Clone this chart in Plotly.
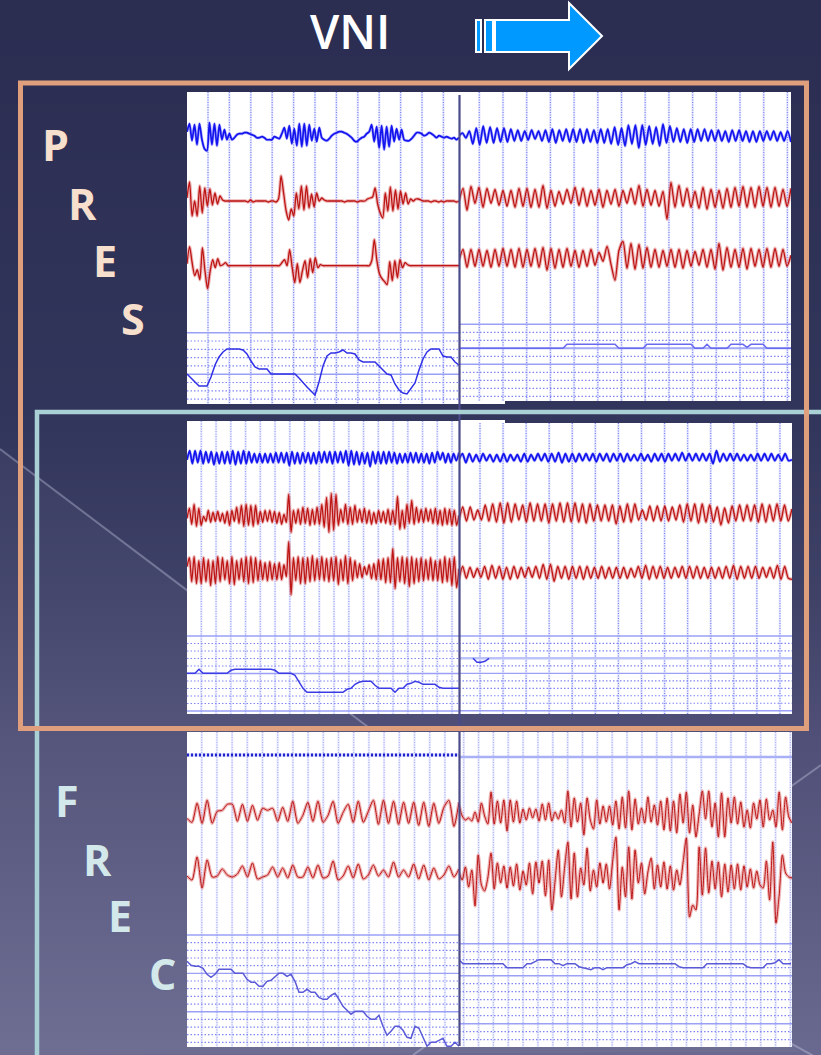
import numpy as np
import plotly.graph_objects as go

# ---------- channel values (amplitude, up is positive) ----------
a_blue = [5,13,-4,12,-8,13,-3,-12,-14,14,-8,13,-9,12,-3,7,-3,3,
          -3,-1,2,3,3,4,4,3,2,1,-1,-1,0,-1,-3,-3,-3,0,-1,-2,
          3,9,-2,11,-7,8,-9,13,-10,13,-9,12,-4,8,-5,9,
          -1,-3,-4,-2,1,3,4,5,5,4,3,1,-1,-4,-5,-3,-1,0,3,5,
          12,-5,10,-11,11,-13,10,-10,11,-5,8,-3,7,-3,-4,
          -4,-2,1,4,4,3,1,2,4,3,1,-1,1,0,-1,0,-1,-2,-1,-3,-1]
a_red1 = [3,19,-15,0,-15,15,-12,13,-5,12,-4,8,-3,5,1,
          0,0,0,0,0,0,0,0,0,-1,1,-1,0,0,0,0,0,-1,0,0,-1,
          2,25,8,-10,-19,-8,-15,8,-8,15,-9,15,-7,7,-6,8,0,3,1,
          0,0,0,0,0,0,0,-1,0,0,0,0,-1,0,0,0,
          2,3,4,13,-3,-12,-17,8,-10,14,-10,11,-8,10,-3,8,-3,2,0,
          2,2,1,0,0,0,-1,0,0,-1,0,-1,0,0,0,0,-1,0]
a_red2 = [2,19,3,-10,-4,-14,18,-5,-23,-6,6,-2,7,0,1,3,0,
          0,0,0,0,0,0,0,0,0,0,0,0,0,0,0,0,0,0,0,0,
          3,6,0,16,-2,-17,2,-17,-5,5,-12,7,-7,8,-2,1,0,
          0,0,0,0,0,0,0,0,0,0,0,0,0,0,0,0,0,0,
          5,26,5,-8,-13,-16,-19,4,-15,5,-12,6,-2,3,1,
          0,0,0,0,0,0,0,0,0,0,0,0,0,0,0,0,0,0,0,0]
a_sat = [0,-4,-7,-12,-12,-12,-3,9,17,22,25,25,25,25,24,20,13,7,5,5,5,0,0,0,0,0,0,0,-4,-9,-13,-17,-21,-8,8,18,21,21,22,24,21,21,
         20,14,12,12,12,12,8,4,0,-1,-10,-16,-19,-20,-15,-9,4,15,22,25,25,25,18,17,17,12,9,9,9]

b_blue = [0,3,-2,5,-8,8,-9,10,-7,9,-7,8,-6,8,-6,7,-5,6,-5,5,-4,6,-3,5,-5,6,-6,7,-7,6,-5,7,-6,7,-6,7,-7,7,-6,6,-7,7,-7,7,-8,9,-9,8,-10,11,
          -8,11,-12,11,-9,10,-8,9,-10,12,-7,10,-6,8,-6,7,-7,7,-6,7,-5,7,-5,6,-5,6,-5,5,-6,6,-5,6,-5,5,-6,5,-6,5,-5,5,-4,5,-5,4,-5,5,-6]
b_red1 = [-3,10,-12,12,-5,11,-9,10,-5,9,-7,8,-8,8,-9,10,-8,10,-9,9,-9,13,-10,8,-8,7,-6,9,-5,11,-7,10,-8,8,-7,9,-9,8,-6,9,
          -8,8,-5,10,-6,13,-8,9,-7,8,-8,7,-21,16,-9,13,-8,10,-9,7,-10,11,-11,9,-9,8,-10,10,-9,11,-8,12,-9,11,-9,12,-8,11,-9,11,-8,9,-8,10]
b_red2 = [-2,9,-9,9,-8,9,-8,8,-9,9,-8,10,-8,9,-9,10,-9,9,-8,10,-9,11,-12,10,-10,9,-9,10,-8,8,-9,8,-8,9,-7,6,-3,12,-6,-22,
          8,17,-10,15,-11,14,-10,11,-9,9,-9,8,-8,9,-9,9,-10,8,-8,7,-7,9,-9,9,-11,15,-12,11,-9,9,-9,10,-11,10,-8,9,-9,10,-9,10,-8,9,-8,3]
b_sat = [0,0,0,0,0,0,0,0,0,0,0,0,0,0,0,0,0,0,0,0,0,0,0,0,0,0,0,4,4,4,4,4,4,4,4,4,4,4,4,4,0,0,0,0,0,0,0,4,4,4,4,4,4,4,4,4,4,4,4,
         0,0,0,4,0,0,0,0,0,4,4,4,4,1,4,4,4,4,0,0,0,0,0,0,0]

c_blue = [-2,7,-6,7,-5,7,-6,6,-5,6,-7,5,-6,6,-6,6,-6,7,-7,6,-6,7,-6,6,-5,4,-5,4,-5,4,-5,4,-5,5,-5,5,-5,5,-8,6,-6,5,-6,5,-5,5,-6,5,-6,6,
          -5,6,-5,6,-6,6,-5,6,-5,7,-8,7,-7,6,-7,5,-6,5,-9,6,-6,6,-6,6,-6,6,-5,5,-6,4,-5,4,-5,5,-5,5,-5,4,-5,4,-6,5,-5,6,-2,5,-5,4,-5,4,-3,5]
c_red1 = [0,10,-6,14,-8,10,-7,2,-3,8,-4,6,-3,7,-3,5,-5,7,-7,8,-3,11,-5,13,-8,14,-7,13,-8,13,-6,7,-4,8,-3,8,-4,7,-5,6,
          -6,4,-4,24,-14,8,-5,9,-6,11,-5,10,-7,9,-6,11,-6,14,-9,21,-14,25,-12,24,-7,9,-4,14,-6,11,-6,13,-4,9,-4,10,-5,8,-6,6,
          -5,8,-4,7,-5,9,-6,8,-6,22,-11,8,-10,14,-5,18,-6,11,-4,9,-4,10,-3,9,-5,10,-6,8,-7,10,-6,9,-7,8,-7,3]
c_red2 = [5,14,-10,15,-12,11,-12,14,-10,12,-14,11,-12,15,-10,14,-8,11,-12,15,-13,11,-8,13,-10,15,-12,15,-11,14,-9,11,-8,9,-9,10,-8,8,-8,9,
          -8,7,-5,30,-23,14,-9,15,-12,14,-12,14,-10,16,-9,13,-8,15,-9,13,-10,14,-9,15,-13,12,-9,16,-12,14,-9,11,-6,8,-6,5,-3,7,-7,8,
          -8,12,-8,13,-11,14,-11,23,-17,14,-10,15,-12,14,-15,15,-12,13,-10,14,-9,12,-8,14,-9,11,-9,12,-11,15,-10,13,-14,15,-16,3]
c_sat = [0,0,0,4,0,0,0,0,0,0,0,3,4,4,4,4,4,4,4,4,4,4,3,0,0,0,0,-2,-8,-15,-19,-19,-19,-19,-19,-19,-19,-19,-19,-19,-16,-15,-11,-9,-8,-8,-8,-12,-15,-15,
         -15,-15,-19,-15,-15,-11,-10,-8,-9,-11,-11,-11,-11,-14,-15,-15,-15,-15,-15]

d_blue = [-2,4,-5,4,-4,3,-4,4,-3,3,-4,3,-4,4,-4,3,-3,3,-4,4,-4,3,-3,4,-3,4,-4,4,-4,5,-5,4,-4,4,-4,4,-3,4,-3,4,-4,4,-3,4,-4,4,-3,4,-4,4,
          -3,3,-3,4,-3,3,-4,4,-3,4,-4,4,-3,4,-3,5,-3,4,-3,4,-3,4,-3,4,-6,7,-4,4,-3,4,-3,4,-3,3,-3,3,-3,4,-3,4,-3,4,-3,3,-3,4,-3,-2]
d_red1 = [-5,8,-6,8,-5,5,-5,10,-6,11,-7,12,-8,12,-7,11,-5,10,-7,12,-6,11,-6,11,-8,11,-6,12,-7,12,-7,12,-7,11,-8,11,-6,10,-6,10,-6,10,-9,9,-7,11,-7,11,
          -5,5,-5,9,-6,9,-6,9,-6,8,-5,10,-7,11,-6,11,-8,11,-7,10,-7,8,-10,7,-8,9,-6,10,-6,10,-6,10,-7,11,-7,10,-6,11,-6,10,-6,6]
d_red2 = [-6,7,-5,6,-4,5,-4,7,-6,8,-5,7,-6,6,-6,7,-5,6,-4,6,-4,7,-5,9,-6,9,-8,7,-5,7,-6,7,-5,7,-6,7,-5,6,-5,7,-5,6,-5,6,-5,6,-5,5,-4,7,
          -5,8,-6,7,-5,7,-5,6,-5,6,-4,7,-5,7,-5,7,-5,6,-5,6,-5,6,-5,7,-5,8,-6,7,-5,7,-5,7,-5,6,-4,6,-5,8,-6,7,-5,-6]
d_sat = [0,-4,-4,-3,0]

e_blue = [0,0]
e_red1 = [-5,-9,10,-10,13,-10,2,3,9,9,-8,9,-8,8,-7,5,3,5,-8,6,-8,12,-10,-2,11,-8,12,-9,-2,12,-10,1,9,-9,12,-9,2,13,-11,13,
          -10,12,-11,11,-10,11,-12,11,-13,10,-10,6,13,-13,11]
e_red2 = [-1,-5,18,-13,15,-2,-1,6,0,-2,1,9,-2,12,-4,-2,0,8,-2,7,-3,10,-2,-2,8,-3,10,-3,-1,14,-5,-1,9,-3,11,-4,0,10,-1,5,
          -2,13,-2,5,-2,11,-4,10,-5,7,-4,0,9,-2,6]
e_sat = [12,8,7,7,5,-1,-4,-1,4,4,4,4,0,0,0,-6,-9,-9,-13,-13,-8,-7,-3,0,0,-3,-1,-8,-19,-19,-16,-19,-19,-24,-26,-26,-22,-20,-26,-33,-37,-41,-38,-38,-38,
         -43,-46,-46,-42,-53,-62,-58,-53,-53,-57,-64,-65,-53,-55,-64,-73,-69,-69,-67,-65,-73,-73,-69,-73]

f_blue = [0,0]
f_red1 = [10,-1,-5,-3,-6,3,-7,12,-1,-9,23,-9,14,-8,15,-16,15,-7,14,-8,6,-5,7,-3,6,-6,11,-5,12,-6,3,-4,5,-8,24,-12,17,-7,12,-20,
          17,-5,-14,15,-9,9,-7,9,-10,14,-14,18,-13,24,-15,16,-9,7,-8,18,-7,10,-10,14,-15,17,-16,14,-18,21,-8,23,-18,10,-22,1,24,-4,24,-12,
          12,-22,22,-22,17,-8,18,-9,13,-12,5,-13,12,-4,15,-12,16,-5,5,-12,23,-15,18,-2,-8]
f_red2 = [3,-5,8,-12,5,-31,20,-10,-16,-3,22,-14,12,-8,9,-13,8,-11,11,-15,4,-10,12,-19,13,-8,14,-21,15,-35,-6,25,-22,8,33,-24,22,-22,7,-10,
          27,-16,5,-12,12,-8,11,-14,14,38,-35,8,-22,28,-24,25,-8,12,-19,3,17,-14,10,-12,13,-14,9,-15,5,-10,13,37,-42,-30,-35,28,-20,27,-18,14,
          -14,13,-22,11,-17,10,-14,11,-15,9,-12,6,-13,4,-10,-13,14,-25,33,-48,-20,20,2,-2,-3]
f_sat = [4,0,0,0,0,0,0,0,0,0,0,0,-4,-4,-4,-4,-4,0,0,2,4,4,4,4,0,0,-2,0,0,0,-3,-4,-5,-6,-4,-4,-6,-4,-4,-4,-4,-4,-1,0,2,0,0,0,0,0,0,0,0,0,0,
         -3,-4,-4,-4,-4,-4,-4,0,0,0,0,0,0,0,0,0,0,-3,-4,-4,-4,-4,0,0,1,4,0,0,0]

title_text = "VNI"
pres_letters = ["P", "R", "E", "S"]
frec_letters = ["F", "R", "E", "C"]

W, H = 821, 1055
fig = go.Figure()
shapes = []

def px(v): return v / W
def py(v): return 1 - v / H

def rect(x0, y0, x1, y1, **kw):
    shapes.append(dict(type="rect", xref="paper", yref="paper", x0=px(x0), x1=px(x1), y0=py(y0), y1=py(y1), **kw))

def line(x0, y0, x1, y1, color, width, layer="below"):
    shapes.append(dict(type="line", xref="paper", yref="paper", x0=px(x0), x1=px(x1), y0=py(y0), y1=py(y1),
                       line=dict(color=color, width=width), layer=layer))

def path(points, fill, stroke=None, sw=0, layer="above"):
    d = "M " + " L ".join(f"{px(a):.5f},{py(b):.5f}" for a, b in points) + " Z"
    shapes.append(dict(type="path", xref="paper", yref="paper", path=d, fillcolor=fill, layer=layer,
                       line=dict(color=stroke or fill, width=sw)))

# ---------- slide background ----------
stops_y = [0, 420, 600, 740, 1055]
stops_c = np.array([[43, 46, 81], [51, 54, 92], [64, 66, 104], [80, 80, 120], [106, 106, 144]])
for y0 in range(0, H, 8):
    c = [int(np.interp(y0 + 4, stops_y, stops_c[:, i])) for i in range(3)]
    rect(0, y0, W, y0 + 9, fillcolor=f"rgb({c[0]},{c[1]},{c[2]})", line=dict(width=0), layer="below")
path([(0, 449), (800, 1052), (0, 1055)], "rgba(255,255,255,0.035)", layer="below")
line(0, 449, 372, 730, "rgba(215,215,240,0.35)", 2)
line(821, 765, 413, 1055, "rgba(215,215,240,0.35)", 2)
line(790, 1043, 821, 1060, "rgba(215,215,240,0.35)", 2)

# ---------- panels ----------
panels = [
    dict(box=(187, 92, 459, 404), vg=(21, 21.4), hg=(332.7, 8.3, [0, 5], 9), sig=[a_blue, a_red1, a_red2], mid=(136.7, 201, 265.7),
         sat=a_sat, satmid=374, vcol=("#e6e8ff", "#7f86f4")),
    dict(box=(459, 92, 791, 401), vg=(20.3, 23.7), hg=(324.3, 8.0, [0, 5], 10), sig=[b_blue, b_red1, b_red2], mid=(136, 198.3, 258.3),
         sat=b_sat, satmid=348.3, vcol=("#e6e8ff", "#7f86f4")),
    dict(box=(187, 421, 459, 714), vg=(14.3, 14.75), hg=(636, 7.5, [0, 5, 10], 11), sig=[c_blue, c_red1, c_red2], mid=(457.7, 518.3, 571.7),
         sat=c_sat, satmid=673.3, vcol=("#eaecff", "#9da3f6")),
    dict(box=(459, 423, 792, 714), vg=(21, 23.07), hg=(636, 7.47, [0, 3, 5, 10], 11), sig=[d_blue, d_red1, d_red2], mid=(457.7, 515, 573.3),
         sat=d_sat, satmid=658.3, satstart=14, vcol=("#e6e8ff", "#7f86f4")),
    dict(box=(187, 732, 459, 1047), vg=(14.7, 15.2), hg=(935, 7.67, [0, 5, 10], 15), sig=[e_blue, e_red1, e_red2], mid=(755, 813.3, 875),
         sat=e_sat, satmid=973.3, vcol=("#eaecff", "#adb2f2")),
    dict(box=(459, 732, 792, 1047), vg=(4.7, 14.85), hg=(943.7, 8.0, [0, 4, 10], 14), sig=[f_blue, f_red1, f_red2], mid=(757, 815, 875),
         sat=f_sat, satmid=963.7, vcol=("#eaecff", "#adb2f2")),
]

def add(ax, x, y, color, width, dash="solid", shape="linear"):
    ln = dict(color=color, width=width, dash=dash, shape=shape)
    if shape == "spline":
        ln["smoothing"] = 0.7
    fig.add_trace(go.Scatter(x=x, y=y, mode="lines", hoverinfo="skip", showlegend=False, line=ln,
                             xaxis="x" + ax, yaxis="y" + ax))

for n, p in enumerate(panels, start=1):
    x0, y0, x1, y1 = p["box"]
    w, h = x1 - x0, y1 - y0
    rect(x0, y0, x1, y1, fillcolor="white", line=dict(width=0), layer="below")
    ax = "" if n == 1 else str(n)
    fig.layout["xaxis" + ax] = dict(domain=[px(x0), px(x1)], range=[0, w], visible=False, fixedrange=True, anchor="y" + ax)
    fig.layout["yaxis" + ax] = dict(domain=[py(y1), py(y0)], range=[h, 0], visible=False, fixedrange=True, anchor="x" + ax)

    # grid
    start, step = p["vg"]
    gx = np.arange(start, w, step)
    vx = [v for g in gx for v in (g, g, None)]
    vy = [v for g in gx for v in (0, h, None)]
    add(ax, vx, vy, p["vcol"][0], 2.4)
    add(ax, vx, vy, p["vcol"][1], 1.2, dash="1px,1.5px")
    top, hstep, strong, count = p["hg"]
    hy = [top - y0 + k * hstep for k in range(count)]
    weak_y = [y for k, y in enumerate(hy) if k not in strong]
    strong_y = [y for k, y in enumerate(hy) if k in strong]
    add(ax, [v for y in weak_y for v in (0, w, None)], [v for y in weak_y for v in (y, y, None)], "#8087f4", 1.2, dash="1.5px,2px")
    add(ax, [v for y in strong_y for v in (0, w, None)], [v for y in strong_y for v in (y, y, None)], "#9aa0f6", 1.4)

    # physiological channels
    for i, (vals, mid) in enumerate(zip(p["sig"], p["mid"])):
        vals = np.array(vals, dtype=float)
        xs = np.linspace(0, w, len(vals))
        ys = (mid - y0) - vals
        if i == 0:
            if n == 5:
                add(ax, xs, ys, "#d8dcff", 3.5)
                add(ax, xs, ys, "#2222cc", 3, dash="2px,2px")
            elif n == 6:
                add(ax, xs, ys, "#aab0f5", 2.5)
            else:
                add(ax, xs, ys, "rgba(110,110,255,0.5)", 3.0, shape="spline")
                add(ax, xs, ys, "#1414ee", 1.7, shape="spline")
        else:
            add(ax, xs, ys, "rgba(222,120,120,0.55)", 3.4, shape="spline")
            add(ax, xs, ys, "#bd1414", 1.3 if n < 5 else 1.0, shape="spline")

    # saturation channel
    s = np.array(p["sat"], dtype=float)
    xs = p.get("satstart", 0) + np.arange(len(s)) * 4.0
    if n == 4:
        add(ax, [0, w], [p["satmid"] - y0] * 2, "#bcc2fa", 2.4)
    if n == 2:
        add(ax, [0, w], [p["satmid"] - y0] * 2, "#a4aaf8", 2.0)
    add(ax, xs, (p["satmid"] - y0) - s, {1: "#3030e6", 2: "#6a6af0", 3: "#3c3ce6", 4: "#3c3ce6"}.get(n, "#5a5ad8"), 1.5)

# white notches beneath / above the centre line
rect(459, 400, 505, 404, fillcolor="white", line=dict(width=0), layer="below")
rect(459, 420, 505, 424, fillcolor="white", line=dict(width=0), layer="below")

# divider
line(459.5, 95, 459.5, 1046, "#4b4b8a", 2.2, layer="above")

# frames
rect(37, 412, 860, 1100, line=dict(color="#a9d1d5", width=4.5), layer="above", fillcolor="rgba(0,0,0,0)")
rect(20.5, 83, 806.5, 728.5, line=dict(color="#df9f7d", width=5), layer="above", fillcolor="rgba(0,0,0,0)")

# arrow
path([(495, 20), (569, 20), (569, 3), (602, 36), (569, 69), (569, 52), (495, 52)], "#0099ff", "white", 2)
path([(476, 20), (481, 20), (481, 52), (476, 52)], "#0099ff", "white", 2)
path([(485, 20), (493, 20), (493, 52), (485, 52)], "#0099ff", "white", 2)

# text
anns = [dict(x=px(350), y=py(31), text=title_text, font=dict(size=47, color="white", family="Open Sans", weight=600))]
for t, (a, b) in zip(pres_letters, [(55, 145), (82, 203), (105, 260), (133, 318)]):
    anns.append(dict(x=px(a), y=py(b), text=t, font=dict(size=43, color="#f6dfcd", family="Open Sans", weight=700)))
for t, (a, b) in zip(frec_letters, [(67, 800), (97, 859), (120, 915), (162, 973)]):
    anns.append(dict(x=px(a), y=py(b), text=t, font=dict(size=43, color="#d3e8ea", family="Open Sans", weight=700)))
for a in anns:
    a.update(xref="paper", yref="paper", showarrow=False, xanchor="center", yanchor="middle")

fig.update_layout(width=W, height=H, margin=dict(l=0, r=0, t=0, b=0), paper_bgcolor="#2b2e51",
                  plot_bgcolor="rgba(0,0,0,0)", shapes=shapes, annotations=anns, showlegend=False)
fig.write_html("out.html", config=dict(displayModeBar=False),
               post_script="document.body.style.margin='0';document.body.style.overflow='hidden';"
                           "document.querySelectorAll('.scatterlayer').forEach(function(e){e.style.filter='blur(0.45px)';});")
